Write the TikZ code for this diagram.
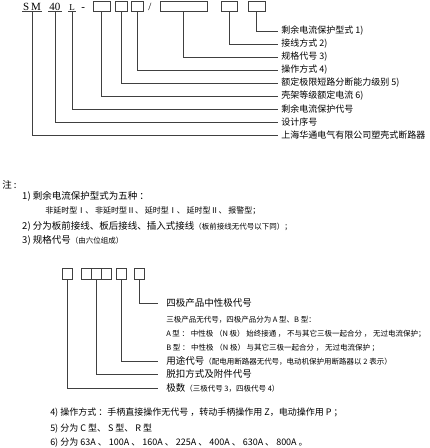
\documentclass[tikz,border=0pt]{standalone}
\usepackage{fontspec}
\setmainfont{Liberation Serif}
\newfontfamily\cjk{Noto Sans CJK SC}
\usetikzlibrary{positioning, calc}
\newcommand{\xiaozi}{\fontsize{7.5}{8}\selectfont}

\begin{document}
\begin{tikzpicture}[
        x=1pt, y=-1pt,
        line width=0.5pt,
        conn/.style={draw=black!75},
        codebox/.style={rectangle, draw=black!75, minimum height=10pt, inner sep=0pt},
        codetext/.style={inner sep=1pt, font=\fontsize{11}{11}\selectfont},
        toplbl/.style={anchor=west, inner xsep=3pt, inner ysep=0pt, font=\cjk\fontsize{9}{10}\selectfont},
        notebig/.style={anchor=west, inner sep=0pt, font=\cjk\fontsize{9.5}{10}\selectfont},
        notesmall/.style={anchor=west, inner sep=0pt, font=\cjk\fontsize{8}{9}\selectfont},
        botlbl/.style={anchor=west, inner xsep=8pt, inner ysep=0pt, font=\cjk\fontsize{9.5}{10}\selectfont},
        botsmall/.style={anchor=west, inner xsep=8pt, inner ysep=0pt, font=\cjk\xiaozi}
    ]
    \useasboundingbox (0,0) rectangle (430,448);

    % 1. 型号代码行
    \node[codetext, anchor=base west] (sm) at (22,10) {S\,M};
    \node[codetext, anchor=base west] (num) at (48,10) {40};
    \node[codetext, anchor=base west, font=\fontsize{9}{9}\selectfont] (ll) at (68,10) {L};
    \node[codetext, anchor=base west] (dash) at (80,10) {-};
    \node[codebox, minimum width=17pt] (b1) at (101.5,6) {};
    \node[codebox, minimum width=12pt] (b2) at (121,6) {};
    \node[codebox, minimum width=12pt] (b3) at (137,6) {};
    \node[codetext, anchor=base west] (slash) at (147,10) {/};
    \node[codebox, minimum width=47pt] (b4) at (183.5,6) {};
    \node[codebox, minimum width=16pt] (b5) at (229,6) {};
    \node[codebox, minimum width=17pt] (b6) at (256.5,6) {};
    \foreach \n in {sm, num, ll}
        \draw[conn] (\n.south west) -- (\n.south east);

    % 2. 各位代码说明
    \node[toplbl] (t1) at (278,31) {剩余电流保护型式 1)};
    \node[toplbl] (t2) at (278,44) {接线方式 2)};
    \node[toplbl] (t3) at (278,57) {规格代号 3)};
    \node[toplbl] (t4) at (278,70) {操作方式 4)};
    \node[toplbl] (t5) at (278,83) {额定极限短路分断能力级别 5)};
    \node[toplbl] (t6) at (278,96) {壳架等级额定电流 6)};
    \node[toplbl] (t7) at (278,109) {剩余电流保护代号};
    \node[toplbl] (t8) at (278,122) {设计序号};
    \node[toplbl] (t9) at (278,135) {上海华通电气有限公司塑壳式断路器};

    \draw[conn] (b6.south) |- (t1.west);
    \draw[conn] (b5.south) |- (t2.west);
    \draw[conn] (b4.south) |- (t3.west);
    \draw[conn] (b3.south) |- (t4.west);
    \draw[conn] (b2.south) |- (t5.west);
    \draw[conn] (b1.south) |- (t6.west);
    \draw[conn] (ll.south) |- (t7.west);
    \draw[conn] (num.south) |- (t8.west);
    \draw[conn] (sm.south) |- (t9.west);

    % 3. 注
    \node[notebig] (zhu) at (2,185) {注 :};
    \node[notebig] (n1) at (22,196) {1) 剩余电流保护型式为五种 ：};
    \node[notesmall] (n1a) at (45,211) {非延时型Ⅰ、 非延时型Ⅱ、 延时型Ⅰ、 延时型Ⅱ、 报警型；};
    \node[notebig] (n2) at (22,226) {2) 分为板前接线、板后接线、插入式接线{\xiaozi （板前接线无代号以下同）；}};
    \node[notebig] (n3) at (22,240) {3) 规格代号{\xiaozi （由六位组成）}};

    % 4. 规格代号的组成
    \node[codebox, minimum width=10pt, minimum height=11pt] (p1) at (67,273.5) {};
    \node[codebox, minimum width=10pt, minimum height=11pt] (p2) at (86,273.5) {};
    \node[codebox, minimum width=10pt, minimum height=11pt] (p3) at (96,273.5) {};
    \node[codebox, minimum width=10pt, minimum height=11pt] (p4) at (106,273.5) {};
    \node[codebox, minimum width=10pt, minimum height=11pt] (p5) at (121,273.5) {};
    \node[codebox, minimum width=10pt, minimum height=11pt] (p6) at (139,273.5) {};

    \node[botlbl] (q1) at (158,303) {四极产品中性极代号};
    \node[botsmall] (q1a) at (158,320) {三极产品无代号，四极产品分为 A 型、B 型：};
    \node[botsmall] (q1b) at (158,334) {A 型 ： 中性极 （N 极） 始终接通 ， 不与其它三极一起合分 ， 无过电流保护；};
    \node[botsmall] (q1c) at (158,348) {B 型 ： 中性极 （N 极） 与其它三极一起合分 ， 无过电流保护 ；};
    \node[botlbl] (q2) at (158,361) {用途代号{\xiaozi （配电用断路器无代号，电动机保护用断路器以 2 表示）}};
    \node[botlbl] (q3) at (158,374) {脱扣方式及附件代号};
    \node[botlbl] (q4) at (158,388) {极数{\xiaozi （三极代号 3，四极代号 4）}};

    \draw[conn] (p6.south) |- (q1.west);
    \draw[conn] (p5.south) |- (q2.west);
    \draw[conn] (p3.south) |- (q3.west);
    \draw[conn] (p1.south) |- (q4.west);

    % 5. 其余注释
    \node[notebig, font=\cjk\fontsize{9}{10}\selectfont] (n4) at (50,413) {4) 操作方式 ：手柄直接操作无代号 ，转动手柄操作用 Z，电动操作用 P ；};
    \node[notebig, font=\cjk\fontsize{9}{10}\selectfont] (n5) at (50,429) {5) 分为 C 型、 S 型、 R 型};
    \node[notebig, font=\cjk\fontsize{9}{10}\selectfont] (n6) at (50,443) {6) 分为 63A 、 100A 、 160A 、 225A 、 400A 、 630A 、 800A 。};

\end{tikzpicture}
\end{document}
